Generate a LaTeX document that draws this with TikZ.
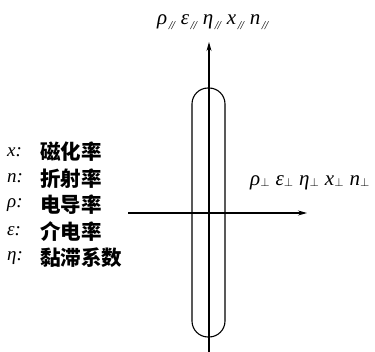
\documentclass[tikz,border=0pt]{standalone}
\usepackage{fontspec}
\newfontfamily\cjk{Noto Sans CJK SC}
\newfontfamily\tms{Liberation Serif}
\usetikzlibrary{arrows.meta}
\tikzset{
  axis/.style={line width=1.1pt,-{Stealth[length=9pt,width=5pt]}},
  capsule/.style={draw,line width=1.1pt,rounded corners=16pt,minimum width=33pt,minimum height=249pt,inner sep=0pt},
  sym/.style={anchor=west,inner sep=0pt,font=\fontsize{19}{19}\selectfont\tms\itshape},
  zh/.style={anchor=west,inner sep=0pt,font=\fontsize{20.5}{21}\selectfont\cjk\bfseries},
  lbl/.style={inner sep=0pt,font=\fontsize{21}{21}\selectfont\tms\itshape}
}
\newcommand{\pl}{\raisebox{-0.45ex}{\fontsize{12}{12}\selectfont\kern1.5pt/\kern-0.5pt/}\hspace{6pt}}
\newcommand{\pp}{\raisebox{-0.1ex}{\fontsize{12}{12}\selectfont$\perp$}\hspace{6pt}}
\begin{document}
\begin{tikzpicture}[x=1pt,y=-1pt]
\useasboundingbox (0,0) rectangle (375,352);
\node[capsule] (cap) at (208.5,212.5) {};
\coordinate (vb) at (209,352);
\coordinate (vt) at (209,42);
\coordinate (hl) at (128,213);
\coordinate (hr) at (307,213);
\draw[axis] (vb) -- (vt);
\draw[axis] (hl) -- (hr);
\node[lbl,anchor=west] (top) at (157,22) {ρ\pl ε\pl η\pl x\pl n\pl};
\node[lbl,anchor=west] (right) at (250,183) {ρ\pp ε\pp η\pp x\pp n\pp};
\node[sym] (s1) at (7,152) {x:};
\node[sym] (s2) at (7,178.5) {n:};
\node[sym] (s3) at (7,205) {ρ:};
\node[sym] (s4) at (7,231.5) {ε:};
\node[sym] (s5) at (7,258) {η:};
\node[zh] (z1) at (40,152) {磁化率};
\node[zh] (z2) at (40,178.5) {折射率};
\node[zh] (z3) at (40,205) {电导率};
\node[zh] (z4) at (40,231.5) {介电率};
\node[zh] (z5) at (40,258) {黏滞系数};
\end{tikzpicture}
\end{document}
